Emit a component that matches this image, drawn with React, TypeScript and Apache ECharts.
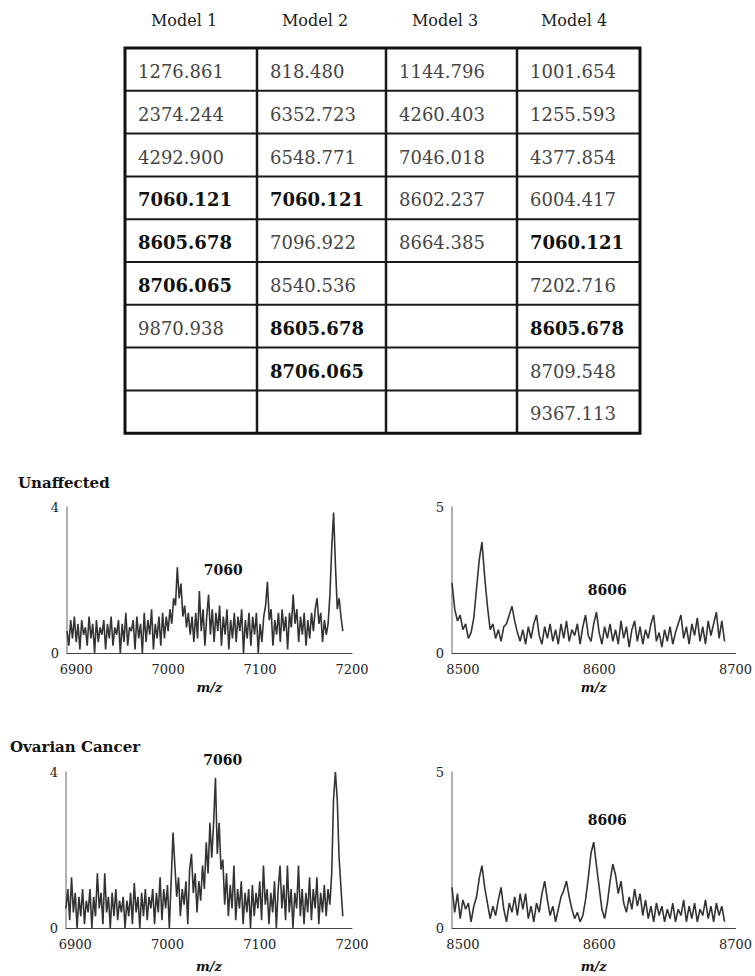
import React, { useEffect, useRef } from "react";
import * as echarts from "echarts";

// ---------- table data ----------
const MODEL_HEADERS = ["Model 1", "Model 2", "Model 3", "Model 4"];
const MODEL1 = ["1276.861", "2374.244", "4292.900", "7060.121", "8605.678", "8706.065", "9870.938"];
const MODEL2 = ["818.480", "6352.723", "6548.771", "7060.121", "7096.922", "8540.536", "8605.678", "8706.065"];
const MODEL3 = ["1144.796", "4260.403", "7046.018", "8602.237", "8664.385"];
const MODEL4 = ["1001.654", "1255.593", "4377.854", "6004.417", "7060.121", "7202.716", "8605.678", "8709.548", "9367.113"];
const BOLD_VALUES = ["7060.121", "8605.678", "8706.065"];

// ---------- spectra (m/z sampled every 2 units) ----------
const LOW_START = 6890;
const HIGH_START = 8492;
const MZ_STEP = 2;

const UNAFFECTED_LOW = [
  0.6, 0.2, 0.9, 0.4, 1.0, 0.3, 0.8, 0.1, 0.9, 0.5, 0.7, 0.2, 1.0, 0.4, 0.8, 0.0, 0.9, 0.3, 0.7, 0.5,
  0.9, 0.1, 0.8, 0.4, 1.0, 0.2, 0.7, 0.5, 0.9, 0.0, 0.8, 0.3, 1.1, 0.2, 0.7, 0.6, 0.9, 0.1, 1.0, 0.4,
  0.8, 0.0, 1.1, 0.3, 0.9, 0.5, 1.2, 0.1, 0.8, 0.4,
  1.0, 0.2, 1.1, 0.4, 1.0, 0.6, 1.2, 0.8, 1.5, 1.3, 2.35, 1.5, 1.9, 1.0, 1.3, 0.7, 1.1, 0.5, 1.0, 0.3,
  1.1, 0.4, 1.7, 0.6, 1.2, 0.2, 1.0, 1.6, 0.5, 1.2, 0.3, 1.1, 0.6, 1.3, 0.2, 1.0, 0.5, 1.2, 0.1, 0.9,
  0.4, 1.1, 0.3, 1.0, 0.6, 1.2, 0.0, 0.9, 0.4, 1.1, 0.2, 1.0, 0.5, 1.1, 0.0,
  0.8, 0.3, 1.0, 1.3, 1.95, 0.9, 1.2, 0.2, 0.9, 0.5, 1.1, 0.3, 1.2, 0.6, 1.0, 0.1, 1.1, 0.7, 1.6, 0.8,
  1.2, 0.3, 1.0, 0.5, 1.1, 0.2,
  0.9, 0.4, 1.1, 0.6, 1.2, 1.5, 0.8, 1.1, 0.3, 0.9, 0.5, 0.8, 1.6, 2.9, 3.85, 2.4, 1.2, 1.5, 1.0, 0.6,
];

const UNAFFECTED_HIGH = [
  2.4, 1.5, 1.1, 1.3, 0.8, 1.0, 0.5, 0.7, 1.2, 2.2, 3.2, 3.8, 2.6, 1.6, 0.8, 1.0, 0.5, 0.8, 0.4, 0.9,
  1.0, 1.3, 1.6, 1.1, 0.7, 0.4, 0.8, 0.3, 0.9, 0.5, 1.0, 1.3, 0.6, 0.3, 0.9, 0.5, 1.0, 0.4, 0.8, 0.3,
  1.0, 0.5, 1.1, 0.4, 0.8, 0.6, 1.0, 0.3, 0.9, 1.3, 0.6, 0.4, 1.0, 1.4, 0.7, 0.3, 0.9, 0.5, 1.0, 0.4,
  0.8, 0.3, 1.1, 0.5, 0.9, 0.2, 0.8, 1.1, 0.4, 0.9, 0.3, 0.8, 0.5, 1.0, 1.3, 0.4, 0.7, 0.2, 0.8, 0.4,
  0.9, 0.3, 0.7, 1.0, 1.3, 0.5, 0.9, 0.3, 1.0, 0.6, 1.2, 0.4, 0.9, 0.3, 1.1, 0.6, 1.0, 1.4, 0.5, 1.1,
  0.4,
];

const CANCER_LOW = [
  0.5, 1.0, 0.2, 1.3, 0.4, 0.9, 0.0, 0.8, 0.3, 1.0, 0.1, 0.7, 0.4, 1.0, 0.0, 0.8, 0.3, 1.4, 0.5, 0.9,
  0.1, 1.4, 0.4, 0.8, 0.0, 0.9, 0.3, 1.0, 0.2, 0.7, 0.4, 0.8, 0.0, 0.7, 0.3, 0.9, 0.1, 1.15, 0.4, 0.8,
  0.0, 0.9, 0.3, 1.0, 0.2, 0.8, 0.5, 1.0, 0.1, 0.9,
  0.4, 1.3, 0.2, 1.0, 0.5, 1.1, 0.0, 1.2, 2.45, 1.6, 0.8, 1.3, 0.3, 1.0, 0.6, 1.2, 0.1, 1.5, 1.9, 0.9,
  1.4, 0.4, 1.2, 0.7, 1.6, 1.0, 2.2, 1.4, 2.7, 1.8, 2.7, 3.85, 1.9, 2.7, 1.5, 1.75, 0.6, 1.4, 0.3, 1.1,
  0.5, 1.6, 0.2, 1.0, 0.5, 1.2, 0.1, 0.9, 0.4, 1.0, 0.0, 1.1, 0.3, 0.9, 0.5, 1.2, 0.2, 1.6, 0.6, 1.0,
  0.1, 0.9, 0.4, 1.2, 0.0, 1.0, 1.6, 0.5, 1.1, 0.2, 1.6, 0.4, 1.0, 0.0, 0.9, 0.5, 1.6, 0.3, 1.0, 0.1,
  0.9, 0.4, 1.3, 0.2, 1.0, 0.5, 1.3, 0.1, 0.9, 0.4, 1.1, 0.3, 1.0, 0.6, 1.4, 3.3, 4.0, 3.3, 1.8, 1.05,
  0.3,
];

const CANCER_HIGH = [
  1.3, 0.5, 1.1, 0.3, 0.9, 0.6, 0.8, 0.2, 0.7, 1.0, 1.6, 2.0, 1.3, 0.8, 0.3, 0.7, 0.4, 0.9, 1.3, 0.6,
  0.2, 0.8, 0.5, 1.0, 0.4, 1.1, 0.6, 1.1, 0.3, 0.7, 0.2, 0.8, 0.5, 1.1, 1.5, 0.9, 0.4, 0.7, 0.2, 0.6,
  1.0, 1.2, 1.5, 1.0, 0.6, 0.3, 0.5, 0.2, 0.4, 0.9, 1.6, 2.4, 2.75, 2.0, 1.3, 0.6, 0.3, 0.8, 1.5, 2.05,
  1.7, 1.1, 1.5, 0.8, 0.5, 1.0, 0.6, 1.25, 0.7, 1.1, 0.4, 0.9, 0.3, 0.7, 0.2, 0.8, 0.4, 0.7, 0.2, 0.6,
  0.3, 0.8, 0.2, 0.6, 0.4, 0.9, 0.2, 0.7, 0.3, 0.8, 0.2, 0.6, 0.4, 0.9, 0.3, 0.7, 0.2, 0.8, 0.4, 0.7,
  0.2,
];

const LOW_TICKS = [6900, 7000, 7100, 7200];
const HIGH_TICKS = [8500, 8600, 8700];
const PEAK_LOW = 7060;
const PEAK_HIGH = 8606;
const GROUP_TITLES = ["Unaffected", "Ovarian Cancer"];

const FONT = "'DejaVu Serif', 'Liberation Serif', serif";

function toPairs(start: number, values: number[]) {
  return values.map((v, i) => [start + i * MZ_STEP, v]);
}

function buildTable() {
  const els: any[] = [];
  const left = 125;
  const right = 640;
  const top = 48;
  const rowH = 42.8;
  const nRows = 9;
  const colX = [125, 257, 386, 517, 640];
  const bottom = top + rowH * nRows;
  const headerCenters = [184, 315, 445, 574];
  MODEL_HEADERS.forEach((h, i) => {
    els.push({
      type: "text",
      x: headerCenters[i],
      y: 20,
      style: { text: h, font: `16px ${FONT}`, fill: "#1a1a1a", align: "center", verticalAlign: "middle" },
    });
  });
  for (let r = 1; r < nRows; r++) {
    const y = top + r * rowH;
    els.push({ type: "line", shape: { x1: left, y1: y, x2: right, y2: y }, style: { stroke: "#1a1a1a", lineWidth: 2 } });
  }
  for (let c = 1; c < 4; c++) {
    els.push({ type: "line", shape: { x1: colX[c], y1: top, x2: colX[c], y2: bottom }, style: { stroke: "#1a1a1a", lineWidth: 2.5 } });
  }
  els.push({
    type: "rect",
    shape: { x: left, y: top, width: right - left, height: bottom - top },
    style: { fill: "none", stroke: "#111", lineWidth: 3 },
  });
  const cols = [MODEL1, MODEL2, MODEL3, MODEL4];
  cols.forEach((col, c) => {
    col.forEach((val, r) => {
      const bold = BOLD_VALUES.includes(val);
      els.push({
        type: "text",
        x: colX[c] + 13,
        y: top + r * rowH + rowH / 2 + 2,
        style: {
          text: val,
          font: `${bold ? "bold " : ""}18px ${FONT}`,
          fill: bold ? "#111" : "#444",
          align: "left",
          verticalAlign: "middle",
        },
      });
    });
  });
  els.push({
    type: "text",
    x: 18,
    y: 483,
    style: { text: GROUP_TITLES[0], font: `bold 15px ${FONT}`, fill: "#111", align: "left", verticalAlign: "middle" },
  });
  els.push({
    type: "text",
    x: 10,
    y: 747,
    style: { text: GROUP_TITLES[1], font: `bold 15px ${FONT}`, fill: "#111", align: "left", verticalAlign: "middle" },
  });
  return els;
}

export default function App() {
  const ref = useRef<HTMLDivElement>(null);
  useEffect(() => {
    if (!ref.current) return;
    const chart = echarts.init(ref.current, null, { renderer: "svg" });
    const grids = [
      { left: 67, top: 507, width: 285, height: 146 },
      { left: 452, top: 507, width: 285, height: 146 },
      { left: 66, top: 772, width: 286, height: 156 },
      { left: 452, top: 772, width: 285, height: 156 },
    ];
    const xAx = (gi: number, min: number, max: number, ticks: number[], gap: number) => ({
      gridIndex: gi,
      type: "value",
      min,
      max,
      axisLine: { show: true, lineStyle: { color: "#444", width: 1 } },
      axisTick: { show: false },
      splitLine: { show: false },
      axisLabel: {
        customValues: ticks,
        formatter: (v: number) => String(v),
        fontFamily: FONT,
        fontSize: 13,
        color: "#222",
        margin: 10,
      },
      name: "m/z",
      nameLocation: "middle",
      nameGap: gap,
      nameTextStyle: { fontFamily: FONT, fontSize: 13, fontStyle: "italic", fontWeight: "bold", color: "#111" },
    });
    const yAx = (gi: number, max: number) => ({
      gridIndex: gi,
      type: "value",
      min: 0,
      max,
      interval: max,
      axisLine: { show: true, lineStyle: { color: "#999", width: 1.5 } },
      axisTick: { show: false },
      splitLine: { show: false },
      axisLabel: { fontFamily: FONT, fontSize: 13, color: "#222", margin: 8 },
    });
    const peakLabel = (coord: number[], text: string, offsetY: number) => ({
      symbol: "circle",
      symbolSize: 1,
      itemStyle: { color: "transparent" },
      data: [
        {
          coord,
          label: {
            show: true,
            position: "inside",
            formatter: text,
            offset: [0, offsetY],
            fontFamily: FONT,
            fontWeight: "bold",
            fontSize: 14,
            color: "#111",
          },
        },
      ],
    });
    const lineSeries = (i: number, start: number, vals: number[], mp: any) => ({
      type: "line",
      xAxisIndex: i,
      yAxisIndex: i,
      data: toPairs(start, vals),
      showSymbol: false,
      symbol: "none",
      lineStyle: { color: "#333", width: 1.6 },
      markPoint: mp,
    });
    chart.setOption({
      animation: false,
      backgroundColor: "#fff",
      grid: grids,
      xAxis: [
        xAx(0, LOW_START, 7200, LOW_TICKS, 28),
        xAx(1, HIGH_START, 8700, HIGH_TICKS, 28),
        xAx(2, LOW_START, 7200, LOW_TICKS, 32),
        xAx(3, HIGH_START, 8700, HIGH_TICKS, 32),
      ],
      yAxis: [yAx(0, 4), yAx(1, 5), yAx(2, 4), yAx(3, 5)],
      series: [
        lineSeries(0, LOW_START, UNAFFECTED_LOW, peakLabel([PEAK_LOW, 2.27], String(PEAK_LOW), 0)),
        lineSeries(1, HIGH_START, UNAFFECTED_HIGH, peakLabel([PEAK_HIGH, 2.16], String(PEAK_HIGH), 0)),
        lineSeries(2, LOW_START, CANCER_LOW, peakLabel([PEAK_LOW, 4], String(PEAK_LOW), -12)),
        lineSeries(3, HIGH_START, CANCER_HIGH, peakLabel([PEAK_HIGH, 3.46], String(PEAK_HIGH), 0)),
      ],
      graphic: buildTable(),
    });
    return () => chart.dispose();
  }, []);
  return (
    <div
      ref={ref}
      style={{ position: "absolute", left: 0, top: 0, width: 755, height: 976, background: "#fff" }}
    />
  );
}
